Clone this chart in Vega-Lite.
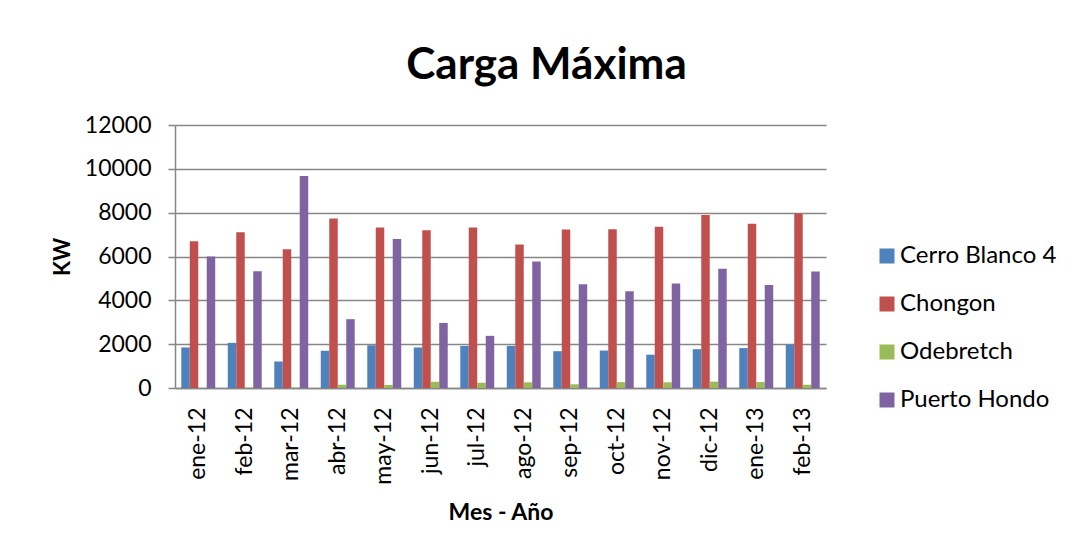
{
  "$schema": "https://vega.github.io/schema/vega-lite/v6.json",
  "autosize": "none",
  "width": 651,
  "height": 263,
  "padding": {"left": 175, "top": 125, "right": 247, "bottom": 165},
  "background": "white",
  "title": {
    "text": "Carga Máxima",
    "font": "Lato",
    "fontSize": 44,
    "fontWeight": "bold",
    "color": "black",
    "anchor": "middle",
    "dx": 46,
    "offset": 26
  },
  "data": {
    "values": [
      {"mes": "ene-12", "planta": "Cerro Blanco 4", "kw": 1850},
      {"mes": "ene-12", "planta": "Chongon", "kw": 6700},
      {"mes": "ene-12", "planta": "Odebretch", "kw": 0},
      {"mes": "ene-12", "planta": "Puerto Hondo", "kw": 6000},
      {"mes": "feb-12", "planta": "Cerro Blanco 4", "kw": 2060},
      {"mes": "feb-12", "planta": "Chongon", "kw": 7110},
      {"mes": "feb-12", "planta": "Odebretch", "kw": 15},
      {"mes": "feb-12", "planta": "Puerto Hondo", "kw": 5330},
      {"mes": "mar-12", "planta": "Cerro Blanco 4", "kw": 1210},
      {"mes": "mar-12", "planta": "Chongon", "kw": 6330},
      {"mes": "mar-12", "planta": "Odebretch", "kw": 15},
      {"mes": "mar-12", "planta": "Puerto Hondo", "kw": 9670},
      {"mes": "abr-12", "planta": "Cerro Blanco 4", "kw": 1700},
      {"mes": "abr-12", "planta": "Chongon", "kw": 7730},
      {"mes": "abr-12", "planta": "Odebretch", "kw": 150},
      {"mes": "abr-12", "planta": "Puerto Hondo", "kw": 3140},
      {"mes": "may-12", "planta": "Cerro Blanco 4", "kw": 1950},
      {"mes": "may-12", "planta": "Chongon", "kw": 7320},
      {"mes": "may-12", "planta": "Odebretch", "kw": 140},
      {"mes": "may-12", "planta": "Puerto Hondo", "kw": 6800},
      {"mes": "jun-12", "planta": "Cerro Blanco 4", "kw": 1850},
      {"mes": "jun-12", "planta": "Chongon", "kw": 7200},
      {"mes": "jun-12", "planta": "Odebretch", "kw": 290},
      {"mes": "jun-12", "planta": "Puerto Hondo", "kw": 2970},
      {"mes": "jul-12", "planta": "Cerro Blanco 4", "kw": 1920},
      {"mes": "jul-12", "planta": "Chongon", "kw": 7320},
      {"mes": "jul-12", "planta": "Odebretch", "kw": 240},
      {"mes": "jul-12", "planta": "Puerto Hondo", "kw": 2380},
      {"mes": "ago-12", "planta": "Cerro Blanco 4", "kw": 1920},
      {"mes": "ago-12", "planta": "Chongon", "kw": 6550},
      {"mes": "ago-12", "planta": "Odebretch", "kw": 260},
      {"mes": "ago-12", "planta": "Puerto Hondo", "kw": 5770},
      {"mes": "sep-12", "planta": "Cerro Blanco 4", "kw": 1680},
      {"mes": "sep-12", "planta": "Chongon", "kw": 7230},
      {"mes": "sep-12", "planta": "Odebretch", "kw": 170},
      {"mes": "sep-12", "planta": "Puerto Hondo", "kw": 4730},
      {"mes": "oct-12", "planta": "Cerro Blanco 4", "kw": 1710},
      {"mes": "oct-12", "planta": "Chongon", "kw": 7240},
      {"mes": "oct-12", "planta": "Odebretch", "kw": 270},
      {"mes": "oct-12", "planta": "Puerto Hondo", "kw": 4410},
      {"mes": "nov-12", "planta": "Cerro Blanco 4", "kw": 1520},
      {"mes": "nov-12", "planta": "Chongon", "kw": 7360},
      {"mes": "nov-12", "planta": "Odebretch", "kw": 260},
      {"mes": "nov-12", "planta": "Puerto Hondo", "kw": 4770},
      {"mes": "dic-12", "planta": "Cerro Blanco 4", "kw": 1770},
      {"mes": "dic-12", "planta": "Chongon", "kw": 7890},
      {"mes": "dic-12", "planta": "Odebretch", "kw": 290},
      {"mes": "dic-12", "planta": "Puerto Hondo", "kw": 5440},
      {"mes": "ene-13", "planta": "Cerro Blanco 4", "kw": 1820},
      {"mes": "ene-13", "planta": "Chongon", "kw": 7490},
      {"mes": "ene-13", "planta": "Odebretch", "kw": 270},
      {"mes": "ene-13", "planta": "Puerto Hondo", "kw": 4700},
      {"mes": "feb-13", "planta": "Cerro Blanco 4", "kw": 1970},
      {"mes": "feb-13", "planta": "Chongon", "kw": 7960},
      {"mes": "feb-13", "planta": "Odebretch", "kw": 150},
      {"mes": "feb-13", "planta": "Puerto Hondo", "kw": 5320}
    ]
  },
  "mark": {"type": "bar"},
  "encoding": {
    "x": {
      "field": "mes",
      "type": "nominal",
      "sort": null,
      "scale": {"paddingInner": 0.27, "paddingOuter": 0.135},
      "axis": {
        "title": "Mes - Año",
        "labelAngle": -90,
        "labelFont": "Lato",
        "labelFontSize": 23,
        "labelColor": "black",
        "labelPadding": 19,
        "titleFont": "Lato",
        "titleFontSize": 23,
        "titleFontWeight": "bold",
        "titleColor": "black",
        "titlePadding": 17,
        "ticks": false,
        "domainColor": "#868686",
        "domainWidth": 1.5
      }
    },
    "xOffset": {"field": "planta", "type": "nominal", "scale": {"paddingInner": 0, "paddingOuter": 0}},
    "y": {
      "field": "kw",
      "type": "quantitative",
      "scale": {"domain": [0, 12000]},
      "axis": {
        "title": "KW",
        "format": "d",
        "values": [0, 2000, 4000, 6000, 8000, 10000, 12000],
        "labelFont": "Lato",
        "labelFontSize": 23,
        "labelColor": "black",
        "labelPadding": 17,
        "titleFont": "Lato",
        "titleFontSize": 22,
        "titleFontWeight": "bold",
        "titleColor": "black",
        "titlePadding": 10,
        "gridColor": "#868686",
        "gridWidth": 1.5,
        "domainColor": "#868686",
        "domainWidth": 1.5,
        "tickColor": "#868686",
        "tickSize": 7,
        "tickWidth": 1.5
      }
    },
    "color": {
      "field": "planta",
      "type": "nominal",
      "scale": {
        "domain": ["Cerro Blanco 4", "Chongon", "Odebretch", "Puerto Hondo"],
        "range": ["#4F81BD", "#C0504D", "#9BBB59", "#8064A2"]
      },
      "legend": {
        "title": null,
        "orient": "none",
        "legendX": 700,
        "legendY": 119,
        "symbolType": "square",
        "symbolSize": 225,
        "symbolStrokeWidth": 0,
        "labelFont": "Lato",
        "labelFontSize": 24,
        "labelColor": "black",
        "labelOffset": 1,
        "rowPadding": 24
      }
    }
  },
  "config": {
    "view": {"stroke": null}
  }
}
